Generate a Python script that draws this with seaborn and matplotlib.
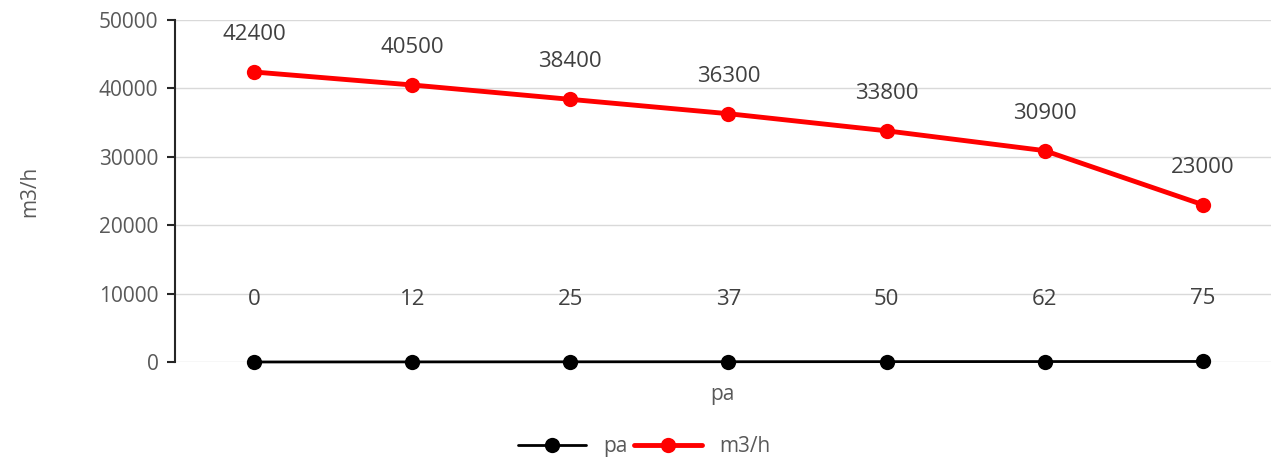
import pandas as pd
import matplotlib.pyplot as plt
import seaborn as sns

# data
pa_values = [0, 12, 25, 37, 50, 62, 75]
flow_values = [42400, 40500, 38400, 36300, 33800, 30900, 23000]
positions = list(range(len(pa_values)))

df = pd.DataFrame({
    'pos': positions * 2,
    'value': pa_values + flow_values,
    'series': ['pa'] * len(pa_values) + ['m3/h'] * len(flow_values),
})

sns.set_theme(style='white')
plt.rcParams['font.family'] = ['Open Sans', 'DejaVu Sans']
text_color = '#595959'

fig = plt.figure(figsize=(12.74, 4.61), dpi=100)
ax = fig.add_axes([0.1374, 0.2148, 0.86, 0.7418])

pa_df = df[df['series'] == 'pa']
flow_df = df[df['series'] == 'm3/h']

sns.lineplot(data=pa_df, x='pos', y='value', color='black', linewidth=2,
             marker='o', markersize=11, markeredgewidth=0, label='pa',
             ax=ax, clip_on=False, zorder=3)
sns.lineplot(data=flow_df, x='pos', y='value', color='#ff0000', linewidth=3.5,
             marker='o', markersize=11, markeredgewidth=0, label='m3/h',
             ax=ax, clip_on=False, zorder=4)

# data labels
for p, v in zip(positions, pa_values):
    ax.annotate(str(v), (p, v), xytext=(0, 45), textcoords='offset points',
                ha='center', va='center', fontsize=16, color='#404040')
for p, v in zip(positions, flow_values):
    ax.annotate(str(v), (p, v), xytext=(0, 27), textcoords='offset points',
                ha='center', va='center', fontsize=16, color='#404040')

ax.set_ylim(0, 50000)
ax.set_xlim(-0.5, 6.43)
ax.set_yticks(range(0, 50001, 10000))
ax.set_xticks([])
ax.yaxis.grid(True, color='#d9d9d9', linewidth=1)
ax.set_axisbelow(True)
for side in ['top', 'right', 'bottom']:
    ax.spines[side].set_visible(False)
ax.spines['left'].set_color('#262626')
ax.spines['left'].set_linewidth(1.5)
ax.tick_params(axis='y', left=True, length=6, width=1.5, color='#262626',
               labelsize=15, labelcolor=text_color, pad=6)

ax.set_xlabel('pa', fontsize=15, color=text_color, labelpad=16)
ax.set_ylabel('m3/h', fontsize=15, color=text_color, labelpad=42)

ax.legend(loc='upper center', bbox_to_anchor=(0.428, -0.163), ncol=2,
          frameon=False, fontsize=15, handlelength=3.3, columnspacing=0.3,
          handletextpad=0.8, labelcolor=text_color)

fig.savefig('out.png', dpi=100)
